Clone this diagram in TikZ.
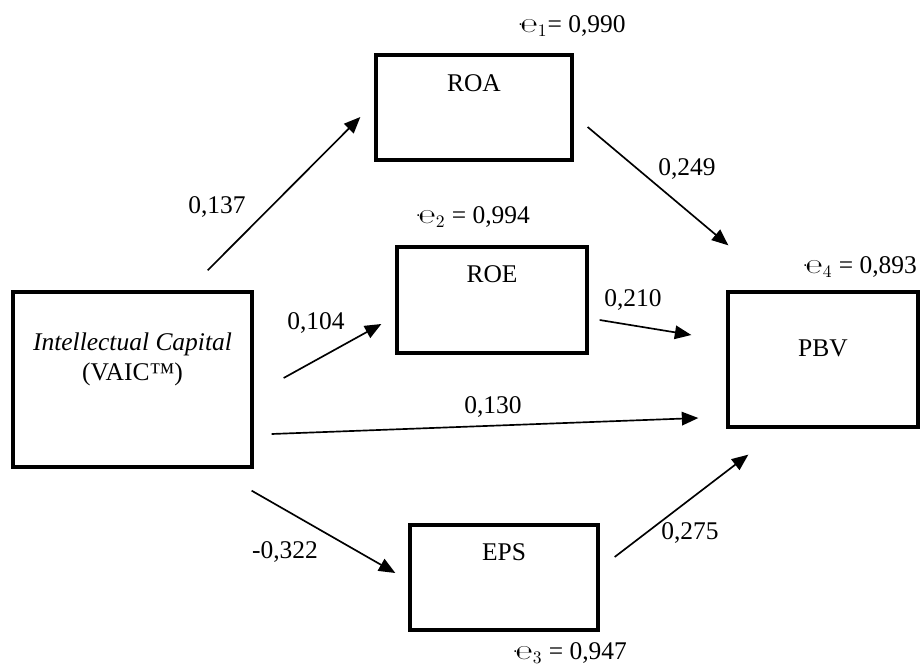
\documentclass[tikz,border=0pt]{standalone}
\usepackage{fontspec}
\setmainfont{Liberation Serif}
\newfontfamily\errfont{DejaVu Sans}
\usetikzlibrary{arrows.meta}

\newcommand{\errsym}[1]{{\errfont\fontsize{11.5}{12}\selectfont\raisebox{0.25ex}{\fontsize{8}{8}\selectfont·}\kern-1.2pt\char"212E}$_{#1}$}

\begin{document}
\begin{tikzpicture}[
    x=0.02cm, y=-0.02cm,
    font=\fontsize{14.5}{17}\selectfont,
    >={Triangle[length=3.3mm, width=2.7mm]},
    box/.style  = {rectangle, draw, line width=1.9pt, inner sep=0pt},
    line/.style = {->, line width=0.95pt},
    coef/.style = {inner sep=0pt}
  ]
  \useasboundingbox (0,0) rectangle (920,666);

  % ---------------- boxes ----------------
  \node[box, minimum width=4.78cm, minimum height=3.5cm] (ic) at (132.5,379.5) {};
  \node[anchor=north, align=center, inner sep=0pt, yshift=-0.84cm] (ictext)
    at (ic.north) {\textit{Intellectual Capital}\\(VAIC™)};

  \node[box, minimum width=3.92cm, text height=0.72cm, text depth=1.38cm] (roa) at (474,107.5) {ROA};
  \node[box, minimum width=3.80cm, text height=0.70cm, text depth=1.42cm] (roe) at (492,300) {ROE};
  \node[box, minimum width=3.76cm, text height=0.70cm, text depth=1.40cm] (eps) at (504,577.5) {EPS};
  \node[box, minimum width=3.80cm, text height=1.28cm, text depth=1.42cm] (pbv) at (823,359.5) {PBV};

  % ---------------- error terms ----------------
  \node[coef] (e1) at (572,26)  {\errsym{1}= 0,990};
  \node[coef] (e2) at (473,217) {\errsym{2} = 0,994};
  \node[coef] (e3) at (570,653) {\errsym{3} = 0,947};
  \node[coef] (e4) at (860,267) {\errsym{4} = 0,893};

  % ---------------- paths ----------------
  \draw[line] ([shift={(-46,-20)}]ic.north east) -- ([shift={(-14,9.5)}]roa.west);
  \draw[line] ([shift={(14,19.5)}]roa.east) -- ([shift={(2,-45)}]pbv.north west);

  \draw[line] ([shift={(30,-1.5)}]ic.east) -- ([shift={(-14,24)}]roe.west);
  \draw[line] ([shift={(11,20)}]roe.east) -- ([shift={(-35,-24.5)}]pbv.west);

  \draw[line] ([shift={(18,54.5)}]ic.east) -- ([shift={(-28,58.5)}]pbv.west);

  \draw[line] ([shift={(-2,22)}]ic.south east) -- ([shift={(-13,-4.5)}]eps.west);
  \draw[line] ([shift={(15,-20.5)}]eps.east) -- ([shift={(22,26)}]pbv.south west);

  % ---------------- coefficients ----------------
  \node[coef] (c137) at (217,207) {0,137};
  \node[coef] (c249) at (687,169) {0,249};
  \node[coef] (c104) at (316,323) {0,104};
  \node[coef] (c210) at (633,300) {0,210};
  \node[coef] (c130) at (493,407) {0,130};
  \node[coef] (c322) at (285,552) {-0,322};
  \node[coef] (c275) at (690,533) {0,275};
\end{tikzpicture}
\end{document}
